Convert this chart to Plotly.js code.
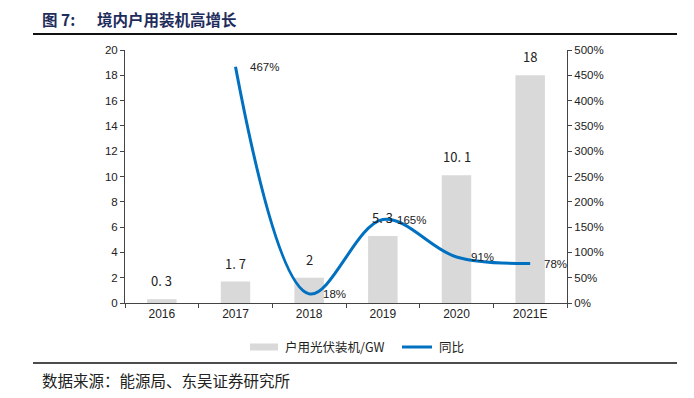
<!DOCTYPE html>
<html>
<head>
<meta charset="utf-8">
<script src="https://cdn.plot.ly/plotly-3.0.1.min.js"></script>
<style>html,body{margin:0;padding:0;background:#fff;}#chart{width:694px;height:398px;}</style>
</head>
<body>
<div id="chart"></div>
<script>
const categories = ['2016', '2017', '2018', '2019', '2020', '2021E'];
const capacityGW = [0.3, 1.7, 2, 5.3, 10.1, 18];
const yoyCategories = ['2017', '2018', '2019', '2020', '2021E'];
const yoyPct = [467, 18, 165, 91, 78];
const barName = '户用光伏装机/GW';
const lineName = '同比';

const L = 125, R = 567, T = 50, B = 303;
const px = x => (x - L) / (R - L);
const py = y => (B - y) / (B - T);
const cjk = '"Noto Sans CJK SC", sans-serif';
const latin = '"Liberation Sans", Arial, sans-serif';
const barColor = '#d9d9d9', lineColor = '#0070c0';

const barTrace = {
  type: 'bar', x: categories, y: capacityGW, name: barName,
  marker: {color: barColor}, width: 0.4, hoverinfo: 'skip'
};
const lineTrace = {
  type: 'scatter', mode: 'lines', x: yoyCategories, y: yoyPct, yaxis: 'y2', name: lineName,
  line: {color: lineColor, width: 3, shape: 'spline', smoothing: 1},
  cliponaxis: false, hoverinfo: 'skip'
};

const annotations = [
  {xref: 'paper', yref: 'paper', x: px(40), y: py(19), xanchor: 'left', yanchor: 'middle', showarrow: false,
    text: '<b>图 7:</b>', font: {family: cjk, size: 15.5, color: '#1f2d5c'}},
  {xref: 'paper', yref: 'paper', x: px(95), y: py(19), xanchor: 'left', yanchor: 'middle', showarrow: false,
    text: '<b>境内户用装机高增长</b>', font: {family: cjk, size: 15.5, color: '#1f2d5c'}},
  {xref: 'paper', yref: 'paper', x: px(40), y: py(380), xanchor: 'left', yanchor: 'middle', showarrow: false,
    text: '数据来源：能源局、东吴证券研究所', font: {family: cjk, size: 15.5, color: '#222'}},
  {xref: 'paper', yref: 'paper', x: px(283), y: py(347), xanchor: 'left', yanchor: 'middle', showarrow: false,
    text: barName, font: {family: cjk, size: 12.5, color: '#222'}},
  {xref: 'paper', yref: 'paper', x: px(437), y: py(347), xanchor: 'left', yanchor: 'middle', showarrow: false,
    text: lineName, font: {family: cjk, size: 12.5, color: '#222'}}
];
// annotations on a category axis take the category index
categories.forEach((c, i) => annotations.push({
  x: i, y: capacityGW[i], xref: 'x', yref: 'y', showarrow: false, xanchor: 'center', yanchor: 'bottom', yshift: 7,
  text: String(capacityGW[i]).replace('.', '. '), font: {family: cjk, size: 13, color: '#222'}
}));
yoyCategories.forEach((c, i) => annotations.push({
  x: categories.indexOf(c), y: yoyPct[i], xref: 'x', yref: 'y2', showarrow: false, xanchor: 'left', yanchor: 'middle', xshift: 12,
  text: yoyPct[i] + '%', font: {family: latin, size: 11.5, color: '#222'}
}));

const axisCommon = {ticks: 'outside', ticklen: 4, tickcolor: '#444', showline: true, linecolor: '#444',
  linewidth: 1, showgrid: false, zeroline: false, fixedrange: true};

const layout = {
  width: 694, height: 398,
  margin: {l: L, r: 694 - R, t: T, b: 398 - B},
  paper_bgcolor: '#fff', plot_bgcolor: '#fff',
  showlegend: false,
  xaxis: Object.assign({type: 'category', tickson: 'boundaries', range: [-0.5, categories.length - 0.5],
    categoryorder: 'array', categoryarray: categories,
    tickfont: {family: latin, size: 12, color: '#222'}}, axisCommon),
  yaxis: Object.assign({range: [0, 20], dtick: 2,
    tickfont: {family: latin, size: 11.5, color: '#222'}}, axisCommon),
  yaxis2: Object.assign({range: [0, 500], dtick: 50, ticksuffix: '%', overlaying: 'y', side: 'right',
    tickfont: {family: latin, size: 11.5, color: '#222'}}, axisCommon),
  shapes: [
    {type: 'line', xref: 'paper', yref: 'paper', x0: px(33), x1: px(677), y0: py(34), y1: py(34),
      line: {color: '#111', width: 2}},
    {type: 'line', xref: 'paper', yref: 'paper', x0: px(33), x1: px(677), y0: py(363), y1: py(363),
      line: {color: '#111', width: 1.5}},
    {type: 'rect', xref: 'paper', yref: 'paper', x0: px(250), x1: px(278), y0: py(343.5), y1: py(350.5),
      fillcolor: barColor, line: {width: 0}},
    {type: 'line', xref: 'paper', yref: 'paper', x0: px(402), x1: px(432), y0: py(347), y1: py(347),
      line: {color: lineColor, width: 3}}
  ],
  annotations: annotations
};

Plotly.newPlot('chart', [barTrace, lineTrace], layout, {displayModeBar: false, staticPlot: true});
</script>
</body>
</html>
